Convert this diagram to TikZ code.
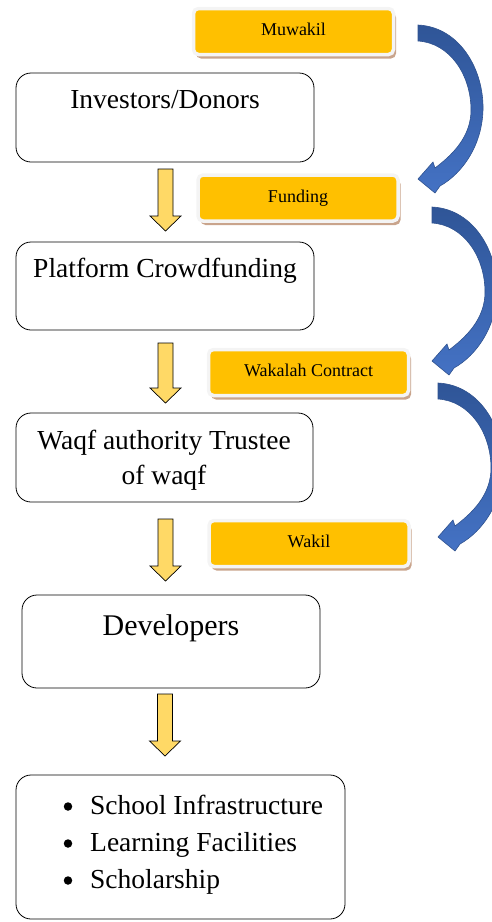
\documentclass[tikz,border=0pt]{standalone}
\usepackage{fontspec}
\setmainfont{Liberation Serif}
\usetikzlibrary{shadows}
\definecolor{orng}{HTML}{FFC000}
\definecolor{ylw}{HTML}{FFD966}
\definecolor{bluA}{HTML}{4472C4}
\definecolor{bluB}{HTML}{2F5597}
\definecolor{bluL}{HTML}{2F528F}
\definecolor{shad}{HTML}{C9A48C}
\definecolor{brd}{HTML}{F4F4F4}
\newcommand\yarrowdraw[3]{%
  \draw[yarr] (#1-7.5,#2) -- (#1+7.5,#2) -- (#1+7.5,#3-15) -- (#1+15.5,#3-15) -- (#1,#3) -- (#1-15.5,#3-15) -- (#1-7.5,#3-15) -- cycle;}
\newcommand\bluearrowdraw[2]{%
  \begin{scope}[shift={(#1,#2)}]
  \path[barr] (0,0) .. controls (42,2) and (66,45) .. (65,85) .. controls (64,120) and (45,148) .. (22,161) -- (17,168) -- (0,154) -- (15,137) -- (17,143) .. controls (37,128) and (53,110) .. (53,85) .. controls (53,50) and (32,18) .. (0,16) -- cycle;
  \end{scope}}
\begin{document}
\begin{tikzpicture}[x=1pt,y=-1pt,
 wbox/.style={draw=black, line width=0.8pt, rounded corners=15pt, fill=white, inner sep=0pt},
 obox/.style={draw=brd, line width=3.5pt, fill=orng, rounded corners=5pt, minimum width=200pt, minimum height=46pt, inner sep=0pt, text height=12pt, text depth=4pt, font=\fontsize{18}{20}\selectfont, drop shadow={shadow xshift=2.5pt, shadow yshift=-4pt, fill=shad, opacity=1}},
 btext/.style={anchor=base, inner sep=0pt, font=\fontsize{27.5}{35}\selectfont},
 yarr/.style={fill=ylw, draw=black, line width=0.7pt, line join=miter},
 barr/.style={top color=bluB, bottom color=bluA, draw=bluL, line width=0.6pt},
 bdot/.style={circle, fill=black, inner sep=0pt, minimum size=8.5pt}
]
\useasboundingbox (0,0) rectangle (492,922);

% white boxes
\node[wbox, minimum width=298pt, minimum height=89pt] (b1) at (165,117.5) {};
\node[wbox, minimum width=298pt, minimum height=88pt] (b2) at (165,286) {};
\node[wbox, minimum width=297pt, minimum height=89pt] (b3) at (164.5,457.5) {};
\node[wbox, minimum width=298pt, minimum height=93pt] (b4) at (171,641.5) {};
\node[wbox, minimum width=329pt, minimum height=144pt] (b5) at (180.5,847) {};

% texts in white boxes
\node[btext] (t1) at (165,108) {Investors/Donors};
\node[btext] (t2) at (165,277) {Platform Crowdfunding};
\node[btext] (t3a) at (164,449) {Waqf authority Trustee};
\node[btext] (t3b) at (164,484) {of waqf};
\node[btext, font=\fontsize{30}{36}\selectfont] (t4) at (171,635) {Developers};
\node[bdot] (d1) at (68,806.5) {};
\node[bdot] (d2) at (68,843.5) {};
\node[bdot] (d3) at (68,880.5) {};
\node[btext, anchor=base west] (l1) at (90,814) {School Infrastructure};
\node[btext, anchor=base west] (l2) at (90,851) {Learning Facilities};
\node[btext, anchor=base west] (l3) at (90,888) {Scholarship};

% orange boxes
\node[obox] (o1) at (293.5,31.5) {Muwakil};
\node[obox] (o2) at (298,198) {Funding};
\node[obox] (o3) at (308.5,372.5) {Wakalah Contract};
\node[obox] (o4) at (309,543.5) {Wakil};

% yellow arrows
\yarrowdraw{165.5}{169}{231}
\yarrowdraw{165.5}{343}{403}
\yarrowdraw{165.5}{519}{581}
\yarrowdraw{165}{694}{756}

% blue curved arrows
\bluearrowdraw{418}{25}
\bluearrowdraw{432}{207}
\bluearrowdraw{438}{383}
\end{tikzpicture}
\end{document}
